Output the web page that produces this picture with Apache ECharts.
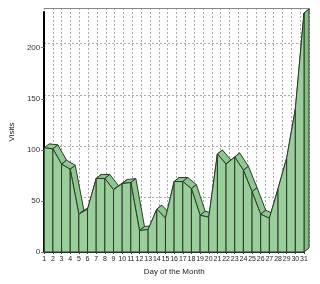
<!DOCTYPE html>
<html>
<head>
<meta charset="utf-8">
<script src="https://cdn.jsdelivr.net/npm/echarts@6/dist/echarts.min.js"></script>
<style>html,body{margin:0;padding:0;background:#fff}#c{width:320px;height:284px}</style>
</head>
<body>
<div id="c"></div>
<script>
const days = [1,2,3,4,5,6,7,8,9,10,11,12,13,14,15,16,17,18,19,20,21,22,23,24,25,26,27,28,29,30,31];
const visits = [102,101,86,81,37,42,72,72,61,67,68,21,22,42,33,69,69,62,36,34,96,86,93,80,59,37,33,62,92,140,234];
const yTicks = [0,50,100,150,200];

const DX = 5, DY = -4;
const FONT = 'Liberation Sans';
const chart = echarts.init(document.getElementById('c'), null, {renderer:'canvas'});
const pts = days.map((d,i)=>[d, visits[i]]);

chart.setOption({
  animation:false,
  grid:[
    {left:39, top:12, width:265, height:240},
    {left:44, top:8, width:265, height:240}
  ],
  xAxis:[
    {gridIndex:0, type:'value', min:1, max:31, interval:1,
     name:'Day of the Month', nameLocation:'middle', nameGap:14,
     nameTextStyle:{fontFamily:FONT, fontSize:8, color:'#222'},
     axisLine:{show:true, lineStyle:{color:'#222', width:1}},
     axisTick:{show:true, length:2, lineStyle:{color:'#444'}},
     axisLabel:{fontFamily:FONT, fontSize:7, color:'#222', margin:4,
       showMinLabel:true, showMaxLabel:true, hideOverlap:false},
     splitLine:{show:false}},
    {gridIndex:1, type:'value', min:1, max:31, interval:1,
     axisLine:{show:false}, axisTick:{show:false}, axisLabel:{show:false},
     splitLine:{show:true, lineStyle:{color:'#a8a8a8', type:[2,2], width:1}}},
    {gridIndex:1, type:'value', min:1, max:31, interval:1, position:'top',
     axisLine:{show:true, lineStyle:{color:'#888', width:1}}, axisTick:{show:false}, axisLabel:{show:false},
     splitLine:{show:false}}
  ],
  yAxis:[
    {gridIndex:0, type:'value', min:0, max:235, interval:50,
     name:'Visits', nameLocation:'middle', nameGap:20, nameRotate:90,
     nameTextStyle:{fontFamily:FONT, fontSize:8, color:'#222'},
     axisLine:{show:true, lineStyle:{color:'#000', width:2}},
     axisTick:{show:true, length:3, lineStyle:{color:'#666'}},
     axisLabel:{fontFamily:FONT, fontSize:8, color:'#333', margin:4, showMaxLabel:false,
       formatter:v=>yTicks.indexOf(v)>=0?String(v):''},
     splitLine:{show:false}},
    {gridIndex:1, type:'value', min:0, max:235, interval:50,
     axisLine:{show:false}, axisTick:{show:false}, axisLabel:{show:false, showMaxLabel:false},
     splitLine:{show:true, showMaxLine:false, lineStyle:{color:'#a8a8a8', type:[2,2], width:1}}}
  ],
  series:[
    {type:'custom', xAxisIndex:0, yAxisIndex:0, z:2, data:pts,
     renderItem:function(params, api){
       const i = params.dataIndex;
       const p0 = api.coord([days[i], visits[i]]);
       if (i >= days.length-1) {
         const b0 = api.coord([days[i], 0]);
         return {type:'polygon', shape:{points:[p0,[p0[0]+DX,p0[1]+DY],[b0[0]+DX,b0[1]+DY],b0]},
           style:{fill:'#86bd86', stroke:'#2a3a2a', lineWidth:1}};
       }
       const p1 = api.coord([days[i+1], visits[i+1]]);
       return {type:'polygon', shape:{points:[p0,p1,[p1[0]+DX,p1[1]+DY],[p0[0]+DX,p0[1]+DY]]},
         style:{fill:'#90c690', stroke:'#2a3a2a', lineWidth:1}};
     }},
    {type:'custom', xAxisIndex:0, yAxisIndex:0, z:3, data:pts,
     renderItem:function(params, api){
       const i = params.dataIndex;
       if (i >= days.length-1) return null;
       const p0 = api.coord([days[i], visits[i]]);
       const p1 = api.coord([days[i+1], visits[i+1]]);
       const b0 = api.coord([days[i], 0]);
       const b1 = api.coord([days[i+1], 0]);
       return {type:'polygon', shape:{points:[p0,p1,b1,b0]},
         style:{fill:'#9ace9a', stroke:'#2a3a2a', lineWidth:1}};
     }}
  ]
});
</script>
</body>
</html>
